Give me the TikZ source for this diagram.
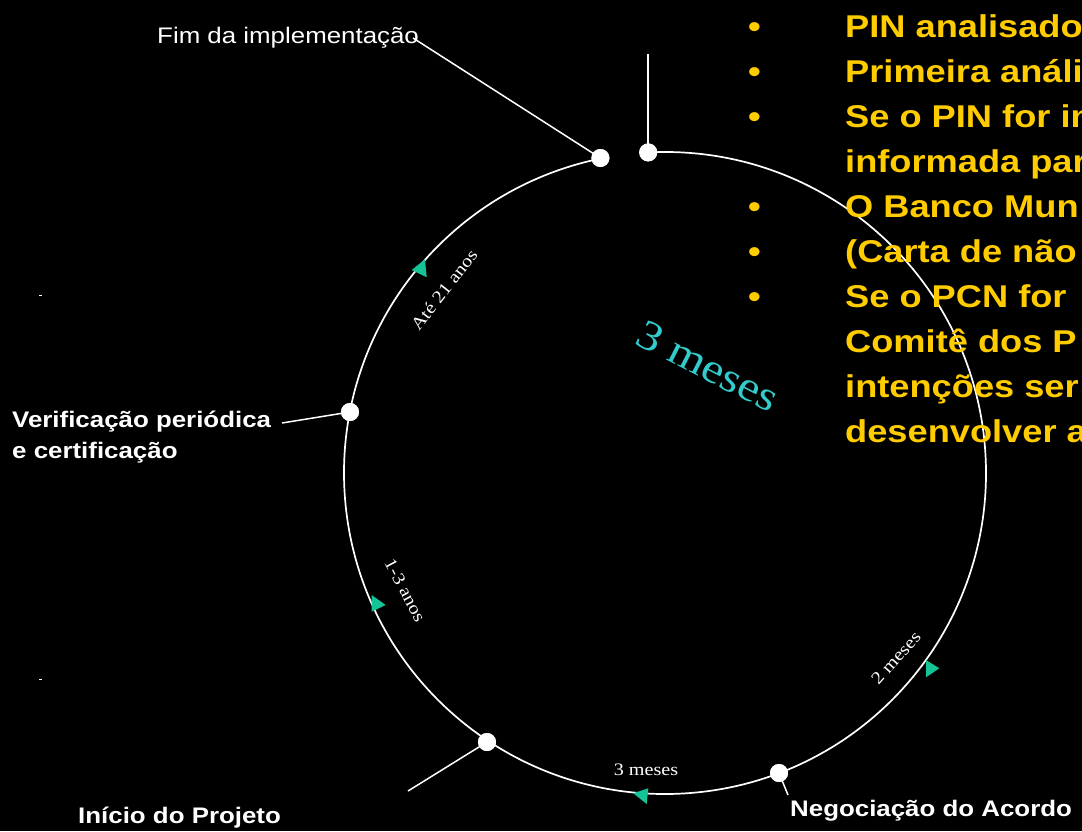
\documentclass[tikz,border=0pt]{standalone}
\usepackage{fontspec}
\setmainfont{Liberation Sans}
\newfontfamily\arialst[FakeStretch=1.15]{Liberation Sans}
\newfontfamily\timesst[FakeStretch=1.15]{Liberation Serif}
\definecolor{ylw}{HTML}{FFCC00}
\definecolor{tealbig}{HTML}{33CCCC}
\definecolor{arrowc}{RGB}{20,195,150}
\tikzset{
  ring/.style={draw=white, line width=1.7pt},
  leader/.style={draw=white, line width=1.5pt},
  dot/.style={circle, fill=white, inner sep=0pt, minimum size=18pt},
  ylwline/.style={anchor=base west, inner sep=0pt, text=ylw, font=\arialst\bfseries\fontsize{31.5}{40}\selectfont},
  bul/.style={anchor=base west, inner sep=0pt, text=ylw, font=\arialst\bfseries\fontsize{31.5}{40}\selectfont},
  wlabel/.style={anchor=base west, inner sep=0pt, text=white, font=\arialst\fontsize{22.5}{27}\selectfont},
  wblabel/.style={anchor=base west, inner sep=0pt, text=white, font=\arialst\bfseries\fontsize{22.5}{27}\selectfont},
  arclabel/.style={inner sep=0pt, text=white, font=\timesst\fontsize{17.5}{20}\selectfont},
  tri/.style={fill=arrowc}
}
\begin{document}
\begin{tikzpicture}[x=1pt,y=1pt]
\useasboundingbox (0,0) rectangle (1082,-831);
\fill[black] (0,0) rectangle (1082,-831);
\clip (0,0) rectangle (1082,-831);

% ring (gap at top between the two dots)
\draw[ring] (665,-473) ++(93:321) arc[start angle=93, end angle=-258.4, radius=321];

% arrowheads
\fill[tri] (411.7,-270) -- (425,-259.3) -- (426.7,-277.3) -- cycle;
\fill[tri] (371.7,-595) -- (371.7,-611.7) -- (385.7,-605) -- cycle;
\fill[tri] (926,-660) -- (926,-677.3) -- (939.3,-668.3) -- cycle;
\fill[tri] (633.3,-793.3) -- (648.3,-788.3) -- (646.7,-804) -- cycle;

% dots
\node[dot] (d0) at (648.2,-152.4) {};
\node[dot] (d1) at (600.4,-158) {};
\node[dot] (d3) at (350,-412) {};
\node[dot] (d4) at (487,-742) {};
\node[dot] (d5) at (779,-773) {};

% labels
\node[wlabel] (fim) at (157,-43) {Fim da implementação};
\node[wblabel] (ver1) at (12,-427) {Verificação periódica};
\node[wblabel] (ver2) at (12,-458) {e certificação};
\node[wblabel] (ini) at (78,-823) {Início do Projeto};
\node[wblabel] (neg) at (790,-816) {Negociação do Acordo};

\coordinate (fimEnd) at (413,-38);
\coordinate (topEnd) at (648.2,-54);
\coordinate (verEnd) at (282,-423);
\coordinate (iniEnd) at (408,-791);
\coordinate (negEnd) at (788,-795);

\draw[leader] (fimEnd) -- (d1.center);
\draw[leader] (topEnd) -- (d0.center);
\draw[leader] (verEnd) -- (d3.center);
\draw[leader] (iniEnd) -- (d4.center);
\draw[leader] (d5.center) -- (negEnd);
\node[dot] at (d0) {};
\node[dot] at (d1) {};
\node[dot] at (d3) {};
\node[dot] at (d4) {};
\node[dot] at (d5) {};

% arc labels
\node[arclabel, rotate=52] (l21) at (444,-290) {Até 21 anos};
\node[arclabel, rotate=-62] (l13) at (405,-590) {1-3 anos};
\node[arclabel, rotate=48] (l2m) at (896,-658) {2 meses};
\node[arclabel, anchor=base] (l3m) at (646,-775) {3 meses};

% big label
\node[inner sep=0pt, text=tealbig, font=\timesst\fontsize{42}{48}\selectfont, rotate=-27] (big) at (708,-366) {3 meses};

% tiny ticks
\draw[white, line width=1pt] (39,-295) -- (42,-295);
\draw[white, line width=1pt] (39,-679) -- (42,-679);

% yellow bullet text
\foreach \yy in {37,82,127,217,262,307} {
  \node[bul] at (748,-\yy) {•};
}
\node[ylwline] (y1) at (845,-37) {PIN analisado};
\node[ylwline] (y2) at (845,-82) {Primeira análi};
\node[ylwline] (y3) at (845,-127) {Se o PIN for in};
\node[ylwline] (y4) at (845,-172) {informada par};
\node[ylwline] (y5) at (845,-217) {O Banco Mun};
\node[ylwline] (y6) at (845,-262) {(Carta de não};
\node[ylwline] (y7) at (845,-307) {Se o PCN for};
\node[ylwline] (y8) at (845,-352) {Comitê dos P};
\node[ylwline] (y9) at (845,-397) {intenções ser};
\node[ylwline] (y10) at (845,-442) {desenvolver a};
\end{tikzpicture}
\end{document}
